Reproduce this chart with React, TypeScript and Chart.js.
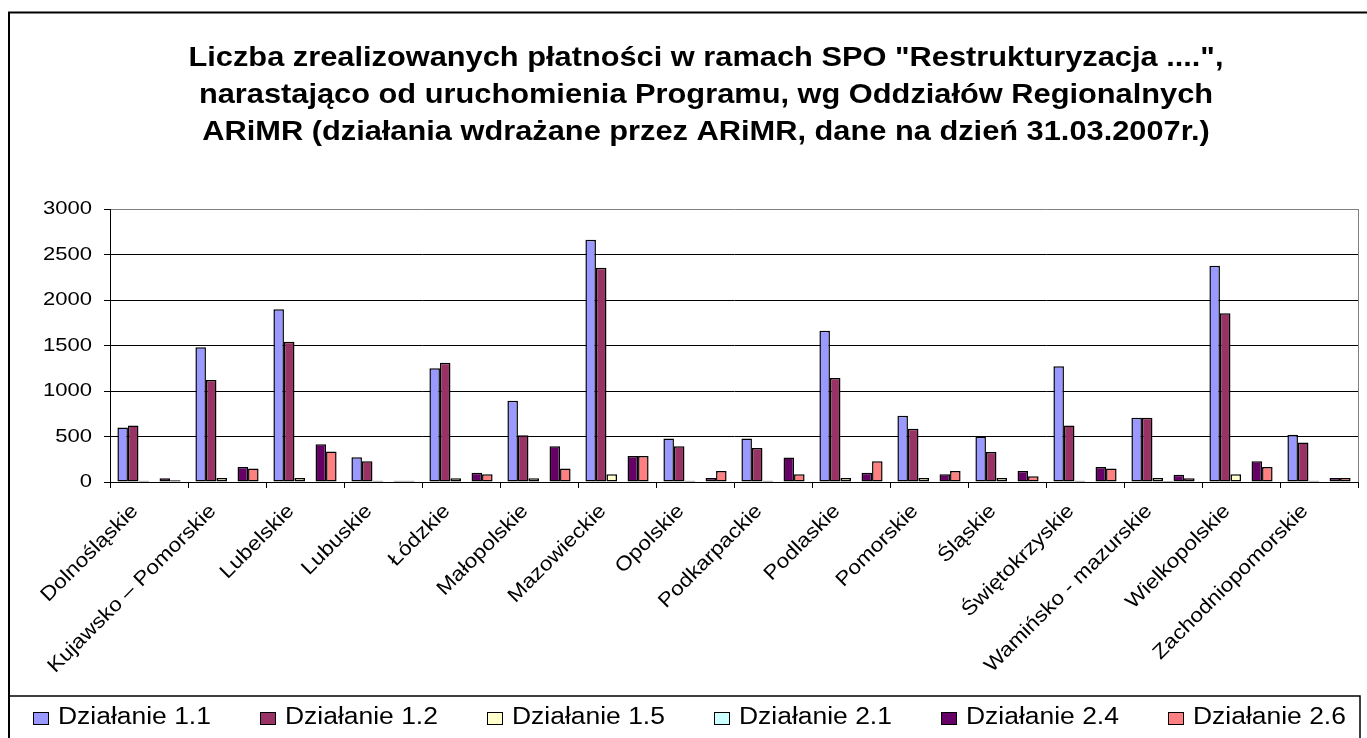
import React, { useEffect, useRef } from 'react';
import { Chart, registerables } from 'chart.js';

Chart.register(...registerables);

const categories = [
  'Dolnośląskie',
  'Kujawsko – Pomorskie',
  'Lubelskie',
  'Lubuskie',
  'Łódzkie',
  'Małopolskie',
  'Mazowieckie',
  'Opolskie',
  'Podkarpackie',
  'Podlaskie',
  'Pomorskie',
  'Śląskie',
  'Świętokrzyskie',
  'Wamińsko - mazurskie',
  'Wielkopolskie',
  'Zachodniopomorskie',
];

const dzialanie11 = [599, 1480, 1898, 272, 1249, 892, 2662, 478, 478, 1663, 727, 496, 1271, 705, 2376, 518];
const dzialanie12 = [621, 1120, 1542, 228, 1311, 514, 2354, 393, 375, 1142, 584, 330, 621, 705, 1854, 434];
const dzialanie15 = [15, 44, 44, 15, 40, 40, 85, 15, 15, 44, 44, 44, 15, 44, 85, 15];
const dzialanie21 = [0, 0, 0, 0, 0, 0, 0, 0, 0, 0, 0, 0, 0, 10, 0, 0];
const dzialanie24 = [40, 165, 415, 15, 103, 393, 287, 44, 268, 103, 85, 121, 165, 81, 228, 44];
const dzialanie26 = [20, 147, 334, 15, 85, 147, 287, 121, 85, 228, 121, 63, 147, 40, 165, 44];

const seriesLabels = ['Działanie 1.1', 'Działanie 1.2', 'Działanie 1.5', 'Działanie 2.1', 'Działanie 2.4', 'Działanie 2.6'];
const seriesColors = ['#9999FF', '#993366', '#FFFFCC', '#CCFFFF', '#660066', '#FF8080'];
const seriesValues = [dzialanie11, dzialanie12, dzialanie15, dzialanie21, dzialanie24, dzialanie26];

const yMin = 0;
const yMax = 3000;
const yStep = 500;
const yTickLabels = ['0', '500', '1000', '1500', '2000', '2500', '3000'];

const titleLines = [
  'Liczba zrealizowanych płatności w ramach SPO "Restrukturyzacja ....",',
  'narastająco od uruchomienia Programu, wg Oddziałów Regionalnych',
  'ARiMR (działania wdrażane przez ARiMR, dane na dzień 31.03.2007r.)',
];

const FONT = '"Liberation Sans", Arial, Helvetica, sans-serif';

function drawStretched(
  ctx: CanvasRenderingContext2D,
  text: string,
  x: number,
  y: number,
  angle: number,
  sx: number,
  align: CanvasTextAlign,
  baseline: CanvasTextBaseline
) {
  ctx.save();
  ctx.translate(x, y);
  if (angle) ctx.rotate(angle);
  ctx.scale(sx, 1);
  ctx.textAlign = align;
  ctx.textBaseline = baseline;
  ctx.fillText(text, 0, 0);
  ctx.restore();
}

export default function App() {
  const ref = useRef<HTMLCanvasElement>(null);

  useEffect(() => {
    const canvas = ref.current;
    if (!canvas) return;

    const textPlugin = {
      id: 'textPlugin',
      afterDraw(chart: any) {
        const ctx = chart.ctx as CanvasRenderingContext2D;
        const a = chart.chartArea;
        const xs = chart.scales.x;
        const ys = chart.scales.y;
        ctx.save();
        ctx.fillStyle = '#000';

        // title
        ctx.font = `bold 27px ${FONT}`;
        const titleCenter = 706;
        titleLines.forEach((line, i) => {
          drawStretched(ctx, line, titleCenter, 66 + i * 36.8, 0, 1.14, 'center', 'alphabetic');
        });

        // y tick labels
        ctx.font = `19px ${FONT}`;
        yTickLabels.forEach((lbl) => {
          const y = ys.getPixelForValue(Number(lbl));
          drawStretched(ctx, lbl, a.left - 18, y, 0, 1.16, 'right', 'middle');
        });

        // x category labels (45 deg)
        ctx.font = `20px ${FONT}`;
        (chart.data.labels as string[]).forEach((lbl, i) => {
          const cx = xs.getPixelForValue(i);
          drawStretched(ctx, lbl, cx - 14, a.bottom + 26, -Math.PI / 4, 1.13, 'right', 'middle');
        });

        // plot area right border (gray)
        ctx.strokeStyle = '#808080';
        ctx.lineWidth = 1;
        const rx = Math.round(a.right) + 0.5;
        ctx.beginPath();
        ctx.moveTo(rx, Math.round(a.top));
        ctx.lineTo(rx, Math.round(a.bottom));
        ctx.stroke();

        // outer chart frame
        ctx.strokeStyle = '#000';
        ctx.lineWidth = 2;
        ctx.strokeRect(9, 12.5, 1420, 800);

        // legend frame
        ctx.lineWidth = 1.5;
        ctx.beginPath();
        ctx.moveTo(9, 696);
        ctx.lineTo(1360, 696);
        ctx.lineTo(1360, 745);
        ctx.stroke();

        // legend items
        ctx.font = `23px ${FONT}`;
        chart.data.datasets.forEach((ds: any, i: number) => {
          const x = 33 + i * 227;
          ctx.fillStyle = ds.backgroundColor;
          ctx.fillRect(x, 712, 16, 13);
          ctx.lineWidth = 1;
          ctx.strokeStyle = '#000';
          ctx.strokeRect(x + 0.5, 712.5, 15, 12);
          ctx.fillStyle = '#000';
          drawStretched(ctx, ds.label, x + 25, 724, 0, 1.15, 'left', 'alphabetic');
        });
        ctx.restore();
      },
    };

    const chart = new Chart(canvas, {
      type: 'bar',
      data: {
        labels: categories,
        datasets: seriesLabels.map((label, i) => ({
          label,
          data: seriesValues[i],
          backgroundColor: seriesColors[i],
          borderColor: '#000',
          borderWidth: 1.5,
          borderSkipped: false,
          categoryPercentage: 0.81,
          barPercentage: 1.0,
        })),
      },
      options: {
        responsive: false,
        animation: false,
        layout: {
          autoPadding: false,
          padding: { left: 20, right: 9, top: 209, bottom: 42 },
        },
        plugins: {
          legend: { display: false },
          tooltip: { enabled: false },
          title: { display: false },
        },
        scales: {
          x: {
            grid: {
              offset: true,
              drawOnChartArea: false,
              drawTicks: true,
              tickLength: 6,
              color: '#000',
            },
            border: { color: '#000', width: 1 },
            ticks: { display: false, autoSkip: false },
            afterFit: (s: any) => {
              s.height = 214;
            },
          },
          y: {
            min: yMin,
            max: yMax,
            ticks: { display: false, stepSize: yStep },
            grid: {
              color: (c: any) => (c.tick && c.tick.value === yMax ? '#808080' : '#000'),
              tickColor: '#000',
              tickLength: 6,
              lineWidth: 1,
            },
            border: { color: '#000', width: 1 },
            afterFit: (s: any) => {
              s.width = 90;
            },
          },
        },
      },
      plugins: [textPlugin],
    });

    return () => {
      chart.destroy();
    };
  }, []);

  return (
    <div style={{ position: 'fixed', left: 0, top: 0, width: 1367, height: 738, background: '#fff' }}>
      <canvas ref={ref} width={1367} height={738} style={{ display: 'block' }} />
    </div>
  );
}
